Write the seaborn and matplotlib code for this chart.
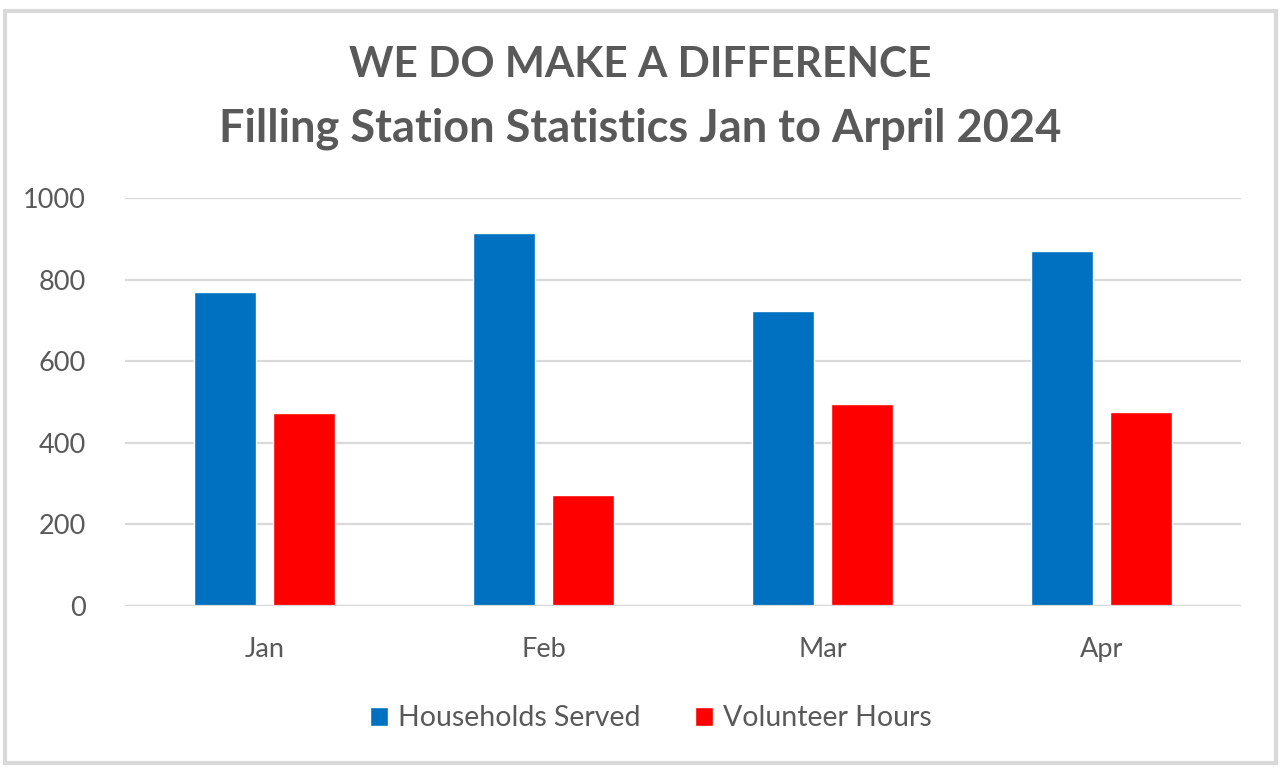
"""
Filling Station statistics, Jan to April 2024
"""

import pandas as pd
import matplotlib.pyplot as plt
from matplotlib.patches import Rectangle
import seaborn as sns

months = ['Jan', 'Feb', 'Mar', 'Apr']
households_served = [769, 914, 722, 871]
volunteer_hours = [472, 273, 494, 476]
series_names = ['Households Served', 'Volunteer Hours']
y_ticks = [0, 200, 400, 600, 800, 1000]

df = pd.DataFrame({
    'month': months * 2,
    'value': households_served + volunteer_hours,
    'series': [series_names[0]] * 4 + [series_names[1]] * 4,
})

sns.set_style('white')
plt.rcParams['font.family'] = ['Lato', 'DejaVu Sans']
text_color = '#595959'

fig = plt.figure(figsize=(12.81, 7.68), dpi=100)
ax = fig.add_axes([0.0976, 0.2109, 0.8712, 0.5313])

sns.barplot(data=df, x='month', y='value', hue='series', order=months,
            hue_order=series_names, palette=['#0070C0', '#FF0000'],
            width=0.566, gap=0.215, saturation=1, ax=ax, legend=True)

ax.set_xlim(-0.5, 3.5)
ax.set_ylim(0, 1000)
ax.set_yticks(y_ticks)
ax.yaxis.grid(True, color='#D9D9D9', linewidth=1.6)
ax.set_axisbelow(True)
for s in ax.spines.values():
    s.set_visible(False)
ax.tick_params(axis='both', length=0, labelsize=19.5, labelcolor=text_color)
ax.tick_params(axis='x', pad=22)
ax.tick_params(axis='y', pad=28)
ax.set_xlabel('')
ax.set_ylabel('')

ax.axhline(0, color='#D9D9D9', linewidth=1.6)

handles, labels = ax.get_legend_handles_labels()
ax.legend(handles, labels, loc='center', bbox_to_anchor=(0.508, 0.065),
          bbox_transform=fig.transFigure, ncol=2, frameon=False,
          fontsize=20.5, labelcolor=text_color, handlelength=0.65,
          handleheight=0.65, handletextpad=0.35, columnspacing=1.9)

fig.text(0.5, 0.915, 'WE DO MAKE A DIFFERENCE', ha='center', va='center',
         fontsize=30.5, fontweight='bold', color=text_color)
fig.text(0.5, 0.832, 'Filling Station Statistics Jan to Arpril 2024', ha='center',
         va='center', fontsize=32.5, fontweight='bold', color=text_color)

fig.patches.append(Rectangle((0.004, 0.006), 0.992, 0.98, transform=fig.transFigure,
                             fill=False, edgecolor='#D9D9D9', linewidth=3))

plt.savefig('out.png', dpi=100)
